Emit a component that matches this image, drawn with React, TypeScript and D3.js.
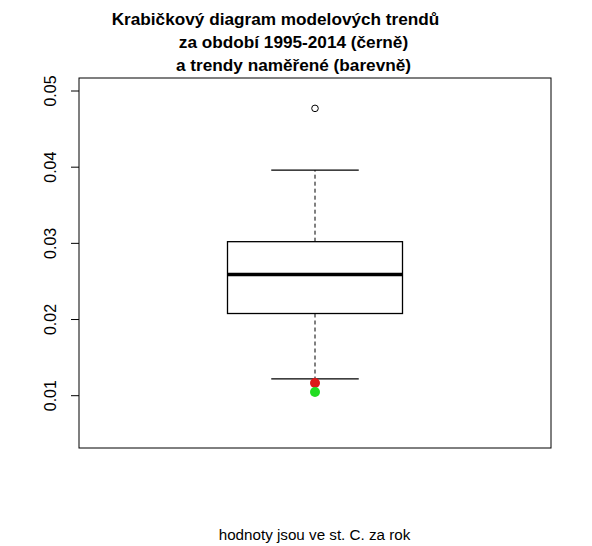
import React from "react";
import * as d3 from "d3";

const titleLines = [
  "Krabičkový diagram modelových trendů",
  "za období 1995-2014 (černě)",
  "a trendy naměřené (barevně)",
];
const xLabel = "hodnoty jsou ve st. C. za rok";
const yTicks = [0.01, 0.02, 0.03, 0.04, 0.05];
const yTickLabels = ["0.01", "0.02", "0.03", "0.04", "0.05"];
// box statistics: lower whisker, q1, median, q3, upper whisker
const boxStats = [0.0122, 0.02079, 0.02592, 0.03022, 0.03961];
const outliers = [0.04772];
const measuredValues = [0.01167, 0.01049];
const measuredColors = ["#dd1a1a", "#22dd22"];

export default function App() {
  const W = 592, H = 546;
  const left = 79, right = 551, top = 78, bottom = 448;
  const y = d3.scaleLinear().domain([0.01, 0.05]).range([395.7, 91]);
  const x = d3.scaleLinear().domain([0.5, 1.5]).range([left, right]);
  const cx = x(1);
  const boxHalf = 87.5;
  const [lo, q1, med, q3, hi] = boxStats;
  const capHalf = boxHalf / 2;
  const font = "Liberation Sans, Arial, sans-serif";
  const titleX = [275.5, 293.5, 293.5];
  const titleY = [25, 48, 71];
  return (
    <svg width={W} height={H} style={{ position: "absolute", left: 0, top: 0, background: "#fff" }}>
      <rect x={0} y={0} width={W} height={H} fill="#fff" />
      {titleLines.map((t, i) => (
        <text key={i} x={titleX[i]} y={titleY[i]} textAnchor="middle" fontFamily={font} fontWeight="bold" fontSize={17.2} fill="#000">
          {t}
        </text>
      ))}
      <rect x={left} y={top} width={right - left} height={bottom - top} fill="none" stroke="#000" strokeWidth={1} />
      {yTicks.map((v, i) => (
        <g key={i}>
          <line x1={left - 8} x2={left} y1={y(v)} y2={y(v)} stroke="#000" />
          <text transform={`translate(${56},${y(v)}) rotate(-90)`} textAnchor="middle" fontFamily={font} fontSize={16} fill="#000">
            {yTickLabels[i]}
          </text>
        </g>
      ))}
      {/* whiskers */}
      <line x1={cx} x2={cx} y1={y(q3)} y2={y(hi)} stroke="#000" strokeDasharray="4,3" />
      <line x1={cx} x2={cx} y1={y(q1)} y2={y(lo)} stroke="#000" strokeDasharray="4,3" />
      <line x1={cx - capHalf} x2={cx + capHalf} y1={y(hi)} y2={y(hi)} stroke="#000" strokeWidth={1.3} />
      <line x1={cx - capHalf} x2={cx + capHalf} y1={y(lo)} y2={y(lo)} stroke="#000" strokeWidth={1.3} />
      <rect x={cx - boxHalf} y={y(q3)} width={boxHalf * 2} height={y(q1) - y(q3)} fill="#fff" stroke="#000" strokeWidth={1.3} />
      <line x1={cx - boxHalf} x2={cx + boxHalf} y1={y(med)} y2={y(med)} stroke="#000" strokeWidth={3.5} />
      {outliers.map((v, i) => (
        <circle key={i} cx={cx} cy={y(v)} r={3.3} fill="none" stroke="#000" strokeWidth={1} />
      ))}
      {measuredValues.map((v, i) => (
        <circle key={i} cx={cx} cy={y(v)} r={5} fill={measuredColors[i]} />
      ))}
      <text x={314.5} y={540} textAnchor="middle" fontFamily={font} fontSize={15.2} fill="#000">
        {xLabel}
      </text>
    </svg>
  );
}
